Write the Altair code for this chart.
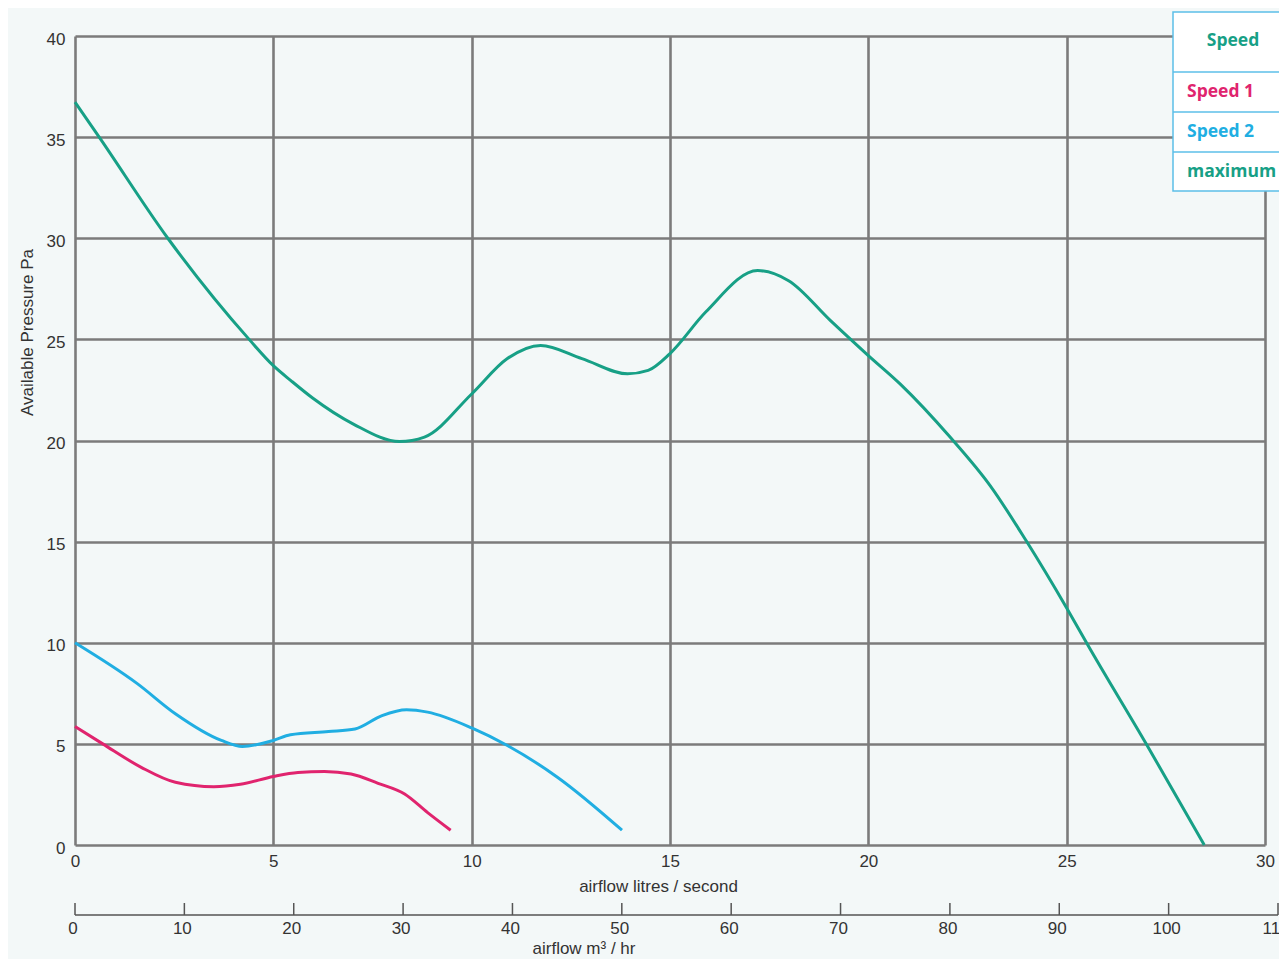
import altair as alt
import pandas as pd

# ---- data ----
max_x = [0, 0.61, 2.34, 4.39, 5.0, 5.45, 5.99, 7.03, 8.18, 8.81, 10.0, 10.9, 11.74, 12.78,
         13.93, 14.45, 15.0, 15.9, 17.21, 17.99, 19.04, 20.0, 20.8, 22.06, 23.07, 23.98,
         25.0, 25.58, 27.0, 28.47]
max_y = [36.73, 35.0, 30.0, 25.0, 23.7, 22.95, 22.1, 20.8, 19.95, 20.17, 22.3, 24.05, 24.7,
         24.05, 23.3, 23.47, 24.3, 26.35, 28.4, 27.9, 25.94, 24.2, 22.8, 20.17, 17.77, 15.04,
         11.72, 9.73, 5.02, 0.0]

s2_x = [0, 1.57, 2.53, 3.69, 4.22, 5.0, 5.43, 6.39, 7.06, 7.74, 8.36, 8.89, 10.0, 10.9,
        12.17, 13.79]
s2_y = [10.0, 7.98, 6.49, 5.17, 4.87, 5.17, 5.45, 5.61, 5.74, 6.4, 6.69, 6.57, 5.79, 4.92,
        3.34, 0.73]

s1_x = [0, 0.7, 1.67, 2.53, 3.5, 4.17, 5.0, 5.62, 6.29, 6.96, 7.64, 8.31, 8.89, 9.47]
s1_y = [5.86, 5.0, 3.84, 3.1, 2.88, 3.0, 3.39, 3.59, 3.64, 3.51, 3.05, 2.52, 1.6, 0.73]

x_ticks = [0, 5, 10, 15, 20, 25, 30]
y_ticks = [0, 5, 10, 15, 20, 25, 30, 35, 40]
m3_ticks = [0, 10, 20, 30, 40, 50, 60, 70, 80, 90, 100, 110]

legend_header = "Speed"
legend_rows = ["Speed 1", "Speed 2", "maximum"]

GREEN = "#17a086"
PINK = "#e0246e"
BLUE = "#20aee2"
GRID = "#7b7b7b"
FONT = "Liberation Sans, Arial, sans-serif"
LFONT = "Open Sans, DejaVu Sans, sans-serif"

W, H = 1190, 809

df = pd.concat([
    pd.DataFrame({"x": max_x, "y": max_y, "s": "maximum"}),
    pd.DataFrame({"x": s2_x, "y": s2_y, "s": "Speed 2"}),
    pd.DataFrame({"x": s1_x, "y": s1_y, "s": "Speed 1"}),
])

xs = alt.Scale(domain=[0, 30], nice=False)
ys = alt.Scale(domain=[0, 40], nice=False)

curves = alt.Chart(df).mark_line(strokeWidth=3, interpolate="monotone").encode(
    x=alt.X("x:Q", scale=xs, axis=alt.Axis(
        values=x_ticks, grid=True, gridColor=GRID, gridWidth=2.6, gridOpacity=1,
        domain=False, ticks=False, labelPadding=8, labelFontSize=17, labelColor="#333",
        labelFont=FONT, title="airflow litres / second", titleFont=FONT, titleFontSize=17,
        titleFontWeight="normal", titleColor="#333", titleX=583, titleY=33,
        labelFlush=False)),
    y=alt.Y("y:Q", scale=ys, axis=alt.Axis(
        values=y_ticks, grid=True, gridColor=GRID, gridWidth=2.6, gridOpacity=1,
        domain=False, ticks=False, labelPadding=10, labelFontSize=17, labelColor="#333",
        labelFont=FONT, labelBaseline="middle", labelOffset=3,
        title="Available Pressure Pa", titleFont=FONT, titleFontSize=17,
        titleFontWeight="normal", titleColor="#333", titleX=-48, titleY=296,
        titleBaseline="middle", labelFlush=False)),
    color=alt.Color("s:N", scale=alt.Scale(domain=["Speed 1", "Speed 2", "maximum"],
                                           range=[PINK, BLUE, GREEN]), legend=None),
    detail="s:N",
)

# secondary m3/hr axis
m3df = pd.DataFrame({"m3": m3_ticks, "lab": [str(v) for v in m3_ticks]})
m3s = alt.Scale(domain=[0, 110], range=[0, 1203], nice=False)
AX_Y = 879
m3_line = alt.Chart(pd.DataFrame({"m3": [0], "m3b": [110]})).mark_rule(
    color="#555", strokeWidth=1.5).encode(
    x=alt.X("m3:Q", scale=m3s, axis=None), x2="m3b:Q", y=alt.value(AX_Y))
m3_tick = alt.Chart(m3df).mark_rule(color="#555", strokeWidth=1.5).encode(
    x=alt.X("m3:Q", scale=m3s, axis=None), y=alt.value(AX_Y - 12), y2=alt.value(AX_Y))
m3_lab = alt.Chart(m3df).mark_text(font=FONT, fontSize=17, color="#333",
                                   baseline="middle", align="center", dx=-2).encode(
    x=alt.X("m3:Q", scale=m3s, axis=None), y=alt.value(AX_Y + 14), text="lab:N")
m3_title = alt.Chart(pd.DataFrame({"t": ["airflow m³ / hr"]})).mark_text(
    font=FONT, fontSize=17, color="#333", baseline="middle", align="center").encode(
    x=alt.value(509), y=alt.value(AX_Y + 34), text="t:N")

# legend table
LX, LX2 = 1098, 1240
rows_y = [-24, 36, 76, 116, 155]
box = alt.Chart(pd.DataFrame({"a": [0]})).mark_rect(
    fill="white", stroke="#5cbfe8", strokeWidth=1.5).encode(
    x=alt.value(LX), x2=alt.value(LX2), y=alt.value(rows_y[0]), y2=alt.value(rows_y[-1]))
seps = [alt.Chart(pd.DataFrame({"a": [0]})).mark_rule(color="#5cbfe8", strokeWidth=1.5).encode(
    x=alt.value(LX), x2=alt.value(LX2), y=alt.value(v)) for v in rows_y[1:4]]
hdr = alt.Chart(pd.DataFrame({"t": [legend_header]})).mark_text(
    font=LFONT, fontSize=17.5, fontWeight="bold", color=GREEN, align="center",
    baseline="middle").encode(x=alt.value(1158), y=alt.value(5), text="t:N")
row_cols = [PINK, BLUE, GREEN]
row_texts = [alt.Chart(pd.DataFrame({"t": [lab]})).mark_text(
    font=LFONT, fontSize=17.5, fontWeight="bold", color=c, align="left",
    baseline="middle").encode(x=alt.value(1112), y=alt.value((rows_y[i + 1] + rows_y[i + 2]) / 2),
                              text="t:N")
    for i, (lab, c) in enumerate(zip(legend_rows, row_cols))]

chart = alt.layer(
    curves, m3_line, m3_tick, m3_lab, m3_title, box, *seps, hdr, *row_texts
).resolve_scale(x="independent").properties(
    width=W, height=H,
    autosize=alt.AutoSizeParams(type="none"),
    padding={"left": 67, "top": 28, "right": 14, "bottom": 114},
    background="#f3f8f8",
).configure_view(stroke=None, fill="#f3f8f8")

chart.save("out.html", embed_options={"renderer": "svg", "actions": False})
